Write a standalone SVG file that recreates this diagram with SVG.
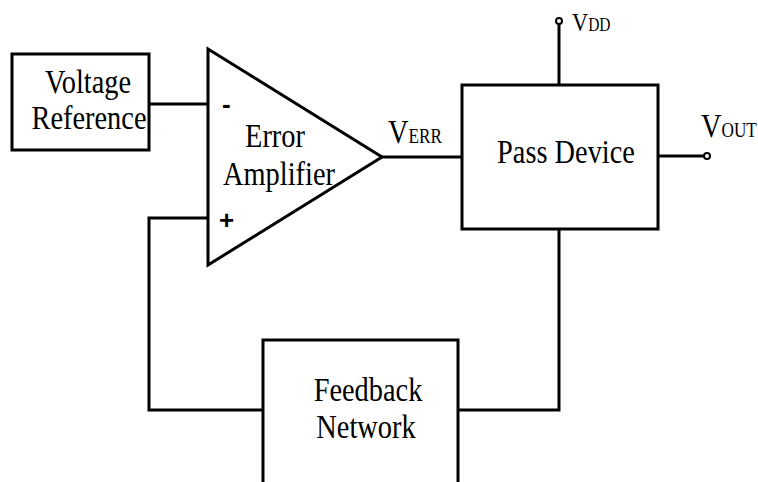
<svg xmlns="http://www.w3.org/2000/svg" width="758" height="482" viewBox="0 0 758 482">
<style>
.box{fill:#fff;stroke:#000;stroke-width:3}
.w{fill:none;stroke:#000;stroke-width:3}
.t{font-family:'Times New Roman','Liberation Serif','DejaVu Serif',serif;font-size:33px;fill:#000}
.s{font-family:'Liberation Sans',Arial,sans-serif;font-weight:bold;font-size:26px;fill:#000}
.term{fill:#fff;stroke:#000;stroke-width:2}
</style>
<rect width="758" height="482" fill="#fff"/>
<g id="connectors">
<path class="w" d="M149,104H208"/>
<path class="w" d="M208,218H149V410H263"/>
<path class="w" d="M458,410H559V229"/>
<path class="w" d="M382,157H462"/>
<path class="w" d="M559,85V24"/>
<circle class="term" cx="559" cy="21" r="3"/>
<path class="w" d="M658,156H704"/>
<circle class="term" cx="707" cy="156" r="3"/>
</g>
<g id="voltage-reference">
<rect class="box" x="12" y="54" width="137" height="96"/>
<text class="t" text-anchor="middle" transform="translate(88,93) scale(0.86,1)">Voltage</text>
<text class="t" text-anchor="middle" transform="translate(89,129) scale(0.86,1)">Reference</text>
</g>
<g id="error-amplifier">
<path class="box" d="M208,49L382,157L208,265Z"/>
<text class="s" x="222" y="113">-</text>
<text class="s" x="219" y="229">+</text>
<text class="t" text-anchor="middle" transform="translate(275,147) scale(0.86,1)">Error</text>
<text class="t" text-anchor="middle" transform="translate(279,185) scale(0.86,1)">Amplifier</text>
</g>
<g id="pass-device">
<rect class="box" x="462" y="85" width="196" height="144"/>
<text class="t" text-anchor="middle" transform="translate(566,163) scale(0.86,1)">Pass Device</text>
</g>
<g id="feedback-network">
<rect class="box" x="263" y="340" width="195" height="170"/>
<text class="t" text-anchor="middle" transform="translate(368,401) scale(0.86,1)">Feedback</text>
<text class="t" text-anchor="middle" transform="translate(366,438) scale(0.86,1)">Network</text>
</g>
<g id="labels">
<text class="t" transform="translate(388,143) scale(0.86,1)">V<tspan font-size="20">ERR</tspan></text>
<text class="t" style="font-size:26px" transform="translate(572,31) scale(0.86,1)">V<tspan font-size="18">DD</tspan></text>
<text class="t" transform="translate(701,137) scale(0.86,1)">V<tspan font-size="20">OUT</tspan></text>
</g>
</svg>
